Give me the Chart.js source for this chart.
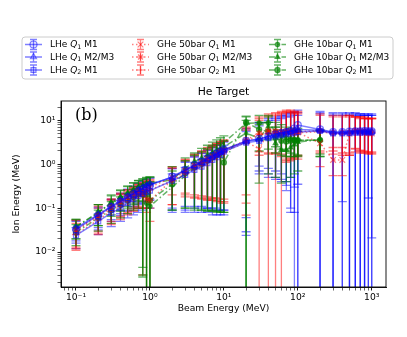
<!DOCTYPE html>
<html>
<head>
<meta charset="utf-8">
<script src="https://cdn.jsdelivr.net/npm/chart.js@4.4.0/dist/chart.umd.min.js"></script>
<style>
html, body { margin: 0; padding: 0; background: #fff; }
#wrap { width: 407px; height: 337px; }
</style>
</head>
<body>
<div id="wrap"><canvas id="ionChart" width="407" height="337"></canvas></div>
<script>
// beam energies (MeV)
const beamEnergy = [0.1, 0.2, 0.3, 0.4, 0.5, 0.6, 0.7, 0.8, 0.9, 1,
    2, 3, 4, 5, 6, 7, 8, 9, 10,
    20, 30, 40, 50, 60, 70, 80, 90, 100,
    200, 300, 400, 500, 600, 700, 800, 900, 1000];
const beamEnergy10bar = beamEnergy.slice(0, 29);

const xMajorTicks = [0.1, 1, 10, 100, 1000];
const yMajorTicks = [0.01, 0.1, 1, 10];

const chartTitle = 'He Target';
const panelTag = '(b)';
const xTitle = 'Beam Energy (MeV)';
const yTitle = 'Ion Energy (MeV)';

const seriesLabels = [
    'LHe Q_1 M1', 'LHe Q_1 M2/M3', 'LHe Q_2 M1',
    'GHe 50bar Q_1 M1', 'GHe 50bar Q_1 M2/M3', 'GHe 50bar Q_2 M1',
    'GHe 10bar Q_1 M1', 'GHe 10bar Q_1 M2/M3', 'GHe 10bar Q_2 M1'
];

// LHe
const lheQ1M1 = [0.033, 0.068, 0.105, 0.14, 0.175, 0.21, 0.245, 0.275, 0.3, 0.33,
    0.52, 0.74, 0.95, 1.15, 1.35, 1.55, 1.75, 1.95, 2.15,
    3.4, 3.8, 4.3, 4.8, 5.1, 5.4, 5.7, 6.5, 7.8,
    6.2, 5.4, 5.4, 5.5, 5.6, 5.6, 5.7, 5.6, 5.6];
const lheQ1M1Lo = [0.016, 0.032, 0.05, 0.068, 0.085, 0.1, 0.12, 0.13, 0.14, 0.15,
    0.1, 0.09, 0.1, 0.1, 0.1, 0.09, 0.09, 0.09, 0.09,
    0.024, 0.9, 0.8, 0.7, 0.6, 0.33, 0.5, 0.0001, 0.0001,
    0.0001, 0.0001, 0.14, 0.0001, 0.0001, 0.0001, 0.0001, 0.17, 0.0001];
const lheQ1M1Hi = [0.05, 0.1, 0.155, 0.21, 0.26, 0.31, 0.36, 0.4, 0.44, 0.48,
    0.8, 1.15, 1.5, 1.8, 2.1, 2.4, 2.7, 3.0, 3.3,
    6.5, 9, 11, 12, 13, 14, 15, 16, 17,
    16, 15, 15, 15, 15, 14, 14, 14, 14];

const lheQ1M23 = [0.035, 0.072, 0.11, 0.15, 0.185, 0.22, 0.26, 0.29, 0.32, 0.35,
    0.5, 0.72, 0.92, 1.1, 1.3, 1.5, 1.7, 1.9, 2.1,
    3.3, 3.7, 4.2, 4.6, 5.0, 5.3, 5.6, 5.9, 6.2,
    5.9, 5.3, 5.3, 5.4, 5.5, 5.5, 5.6, 5.5, 5.5];
const lheQ1M23Lo = [0.018, 0.036, 0.055, 0.075, 0.09, 0.11, 0.13, 0.14, 0.15, 0.16,
    0.09, 0.08, 0.08, 0.08, 0.08, 0.07, 0.07, 0.07, 0.07,
    0.061, 0.7, 0.6, 0.5, 0.45, 0.4, 0.1, 0.3, 0.0001,
    0.0001, 0.0001, 0.0001, 0.0001, 0.0001, 0.0001, 0.0001, 0.0001, 0.021];
const lheQ1M23Hi = [0.052, 0.105, 0.16, 0.22, 0.27, 0.32, 0.37, 0.41, 0.45, 0.49,
    0.78, 1.1, 1.45, 1.75, 2.05, 2.35, 2.65, 2.95, 3.2,
    6, 8.5, 10, 11, 12, 13, 14, 15, 15,
    15, 14, 14, 14, 14, 14, 13, 13, 13];

const lheQ2M1 = [0.024, 0.05, 0.078, 0.1, 0.13, 0.16, 0.19, 0.21, 0.23, 0.25,
    0.42, 0.57, 0.74, 0.88, 1.05, 1.25, 1.44, 1.63, 1.93,
    3.1, 3.4, 3.9, 4.3, 4.6, 4.8, 5.0, 5.2, 5.4,
    5.7, 5.0, 5.0, 5.1, 5.2, 5.2, 5.3, 5.3, 5.3];
const lheQ2M1Lo = [0.012, 0.025, 0.038, 0.05, 0.06, 0.07, 0.08, 0.09, 0.1, 0.1,
    0.08, 0.11, 0.11, 0.11, 0.1, 0.1, 0.1, 0.09, 0.09,
    0.029, 0.6, 0.5, 0.45, 0.4, 0.25, 0.08, 0.08, 0.35,
    0.0001, 0.0001, 0.0001, 0.0001, 0.0001, 0.0001, 0.0001, 0.0001, 0.0001];
const lheQ2M1Hi = [0.036, 0.075, 0.11, 0.15, 0.19, 0.23, 0.27, 0.3, 0.33, 0.36,
    0.6, 0.85, 1.1, 1.3, 1.55, 1.8, 2.1, 2.3, 2.7,
    5.5, 7.5, 9, 10, 11, 12, 12, 13, 13,
    14, 13, 13, 13, 13, 13, 13, 13, 13];

// GHe 50bar
const g50Q1M1 = [0.03, 0.064, 0.1, 0.135, 0.17, 0.2, 0.23, 0.26, 0.28, 0.3,
    0.5, 0.72, 0.93, 1.12, 1.32, 1.52, 1.72, 1.9, 2.1,
    3.3, 2.2, 5.5, 5.4, 5.3, 5.3, 5.4, 5.3, 5.3,
    3.0, 1.25, 1.25, 5.0, 5.6, 5.4, 5.2, 5.1, 5.0];
const g50Q1M1Lo = [0.011, 0.025, 0.045, 0.06, 0.075, 0.09, 0.1, 0.1, 0.08, 0.05,
    0.12, 0.18, 0.17, 0.16, 0.15, 0.15, 0.14, 0.13, 0.13,
    0.069, 0.0001, 1.8, 1.7, 0.0001, 1.2, 1.3, 1.4, 1.5,
    0.88, 0.55, 0.55, 1.6, 2.2, 2.0, 1.9, 1.8, 1.8];
const g50Q1M1Hi = [0.055, 0.12, 0.16, 0.22, 0.26, 0.3, 0.35, 0.38, 0.42, 0.45,
    0.88, 1.3, 1.7, 2.0, 2.4, 2.7, 3.0, 3.3, 3.6,
    6.5, 12, 14, 15, 16, 17, 17, 16, 16,
    6, 2.4, 2.4, 13, 12, 12, 11, 11, 11];

const g50Q1M23 = [0.032, 0.07, 0.11, 0.145, 0.18, 0.22, 0.25, 0.2, 0.16, 0.15,
    0.44, 0.7, 0.92, 1.1, 1.3, 1.5, 1.7, 1.9, 2.0,
    3.6, 5.0, 5.7, 5.6, 5.5, 5.7, 5.8, 5.6, 5.5,
    5.8, 5.2, 5.2, 5.3, 5.9, 5.7, 5.6, 5.5, 5.4];
const g50Q1M23Lo = [0.013, 0.03, 0.05, 0.065, 0.08, 0.1, 0.11, 0.003, 0.0001, 0.0001,
    0.12, 0.2, 0.18, 0.17, 0.16, 0.16, 0.15, 0.14, 0.14,
    0.13, 1.9, 0.0001, 1.8, 1.7, 1.3, 1.4, 1.5, 1.6,
    2.0, 2.0, 1.8, 1.8, 2.3, 2.1, 2.0, 1.9, 1.9];
const g50Q1M23Hi = [0.052, 0.11, 0.16, 0.21, 0.26, 0.3, 0.34, 0.37, 0.4, 0.42,
    0.85, 1.25, 1.65, 1.95, 2.3, 2.6, 2.9, 3.2, 3.5,
    7, 11, 13, 14, 15, 16, 16, 15, 15,
    14, 13, 13, 13, 12, 12, 12, 11, 11];

const g50Q2M1 = [0.025, 0.054, 0.085, 0.11, 0.14, 0.17, 0.2, 0.22, 0.24, 0.26,
    0.42, 0.6, 0.78, 0.93, 1.1, 1.3, 1.5, 1.7, 1.9,
    3.2, 4.7, 5.0, 5.1, 5.2, 5.2, 5.3, 5.3, 5.2,
    5.5, 5.0, 5.0, 5.1, 5.5, 5.3, 5.3, 5.2, 5.2];
const g50Q2M1Lo = [0.012, 0.027, 0.042, 0.055, 0.07, 0.085, 0.1, 0.1, 0.1, 0.1,
    0.2, 0.22, 0.2, 0.19, 0.18, 0.17, 0.17, 0.16, 0.16,
    0.2, 1.6, 1.7, 0.0001, 1.5, 1.1, 1.2, 1.3, 1.3,
    1.8, 1.7, 1.6, 1.6, 1.9, 1.8, 1.8, 1.7, 1.7];
const g50Q2M1Hi = [0.045, 0.1, 0.15, 0.2, 0.24, 0.28, 0.32, 0.35, 0.38, 0.4,
    0.8, 1.2, 1.55, 1.85, 2.15, 2.45, 2.75, 3.0, 3.3,
    6, 10, 12, 13, 14, 15, 15, 14, 14,
    13, 12, 12, 12, 12, 11, 11, 11, 11];

// GHe 10bar (up to 200 MeV)
const g10Q1M1 = [0.038, 0.08, 0.13, 0.17, 0.21, 0.25, 0.29, 0.2, 0.13, 0.11,
    null, null, null, null, null, null, null, null, null,
    8.5, 8.7, 8.8, 5.5, 4.5, 4.0, 3.8, 3.6, 3.5,
    3.6];
const g10Q1M1Lo = [0.02, 0.04, 0.065, 0.085, 0.1, 0.12, 0.14, 0.0027, 0.0001, 0.0001,
    null, null, null, null, null, null, null, null, null,
    0.0001, 3.5, 3.6, 2.5, 2.2, 2.0, 1.8, 1.7, 1.6,
    1.7];
const g10Q1M1Hi = [0.055, 0.12, 0.19, 0.25, 0.31, 0.37, 0.42, 0.45, 0.48, 0.5,
    null, null, null, null, null, null, null, null, null,
    12.5, 13, 13, 9, 8, 7, 6.5, 6, 6,
    6];

const g10Q1M23 = [0.037, 0.079, 0.135, 0.18, 0.22, 0.26, 0.3, 0.33, 0.35, 0.37,
    0.44, 0.81, 1.15, 1.37, 1.63, 1.83, 2.1, 2.3, 2.5,
    5.1, 3.9, 7.2, 3.0, 2.1, 2.1, 2.4, 2.8, 3.2,
    3.6];
const g10Q1M23Lo = [0.02, 0.04, 0.07, 0.09, 0.11, 0.13, 0.15, 0.003, 0.0001, 0.0001,
    0.09, 0.1, 0.09, 0.09, 0.085, 0.085, 0.08, 0.08, 0.08,
    0.0001, 0.37, 0.6, 0.5, 0.37, 0.4, 0.5, 0.6, 0.7,
    1.5];
const g10Q1M23Hi = [0.056, 0.12, 0.2, 0.26, 0.32, 0.38, 0.43, 0.47, 0.5, 0.52,
    0.88, 1.4, 1.8, 2.3, 2.7, 3.2, 3.6, 4.0, 4.4,
    10, 8, 12, 7, 5, 5, 5.5, 6, 6.5,
    6];

const g10Q2M1 = [0.028, 0.06, 0.09, 0.12, 0.15, 0.18, 0.21, 0.23, 0.2, 0.15,
    0.35, 0.62, 0.85, 1.02, 1.22, 1.42, 1.62, 1.82, 1.1,
    9.0, 6.2, 5.5, 4.0, 3.4, 3.3, 3.4, 3.5, 3.5,
    3.5];
const g10Q2M1Lo = [0.014, 0.03, 0.045, 0.06, 0.075, 0.09, 0.1, 0.0045, 0.0001, 0.0001,
    0.09, 0.1, 0.1, 0.09, 0.09, 0.09, 0.085, 0.085, 0.08,
    0.0001, 2.0, 2.2, 1.8, 1.6, 1.5, 1.5, 1.5, 1.5,
    1.5];
const g10Q2M1Hi = [0.042, 0.09, 0.14, 0.18, 0.22, 0.27, 0.31, 0.35, 0.38, 0.4,
    0.7, 1.2, 1.6, 1.9, 2.2, 2.5, 2.8, 3.1, 3.4,
    12, 9, 9, 7, 6, 5.5, 5.5, 5.5, 5.5,
    5.5];

const BLUE = 'rgba(0, 0, 255, 0.5)';
const RED = 'rgba(255, 0, 0, 0.5)';
const GREEN = 'rgba(0, 128, 0, 0.6)';
const DOTTED = [1.5, 2.5];
const DASHDOT = [6, 2.5, 1.5, 2.5];
const FONT = "'DejaVu Sans', sans-serif";

function makeSet(idx, xs, ys, lo, hi, color, dash, style, radius, fill) {
    return {
        label: seriesLabels[idx],
        data: xs.map((xv, i) => ({ x: xv, y: ys[i] })),
        errLo: lo,
        errHi: hi,
        showLine: true,
        spanGaps: true,
        borderColor: color,
        borderWidth: 1.5,
        borderDash: dash,
        pointStyle: style,
        pointRadius: radius,
        pointBorderWidth: 1.2,
        pointBorderColor: color,
        pointBackgroundColor: fill
    };
}

const datasets = [
    makeSet(0, beamEnergy, lheQ1M1, lheQ1M1Lo, lheQ1M1Hi, BLUE, [], 'circle', 3.5, 'rgba(0,0,255,0.08)'),
    makeSet(1, beamEnergy, lheQ1M23, lheQ1M23Lo, lheQ1M23Hi, BLUE, [], 'triangle', 3.5, 'rgba(0,0,255,0.08)'),
    makeSet(2, beamEnergy, lheQ2M1, lheQ2M1Lo, lheQ2M1Hi, BLUE, [], 'rect', 3.5, 'rgba(0,0,255,0.08)'),
    makeSet(3, beamEnergy, g50Q1M1, g50Q1M1Lo, g50Q1M1Hi, RED, DOTTED, 'crossRot', 4, RED),
    makeSet(4, beamEnergy, g50Q1M23, g50Q1M23Lo, g50Q1M23Hi, RED, DOTTED, 'star', 3.5, RED),
    makeSet(5, beamEnergy, g50Q2M1, g50Q2M1Lo, g50Q2M1Hi, RED, DOTTED, 'cross', 4, RED),
    makeSet(6, beamEnergy10bar, g10Q1M1, g10Q1M1Lo, g10Q1M1Hi, GREEN, DASHDOT, 'circle', 2.2, GREEN),
    makeSet(7, beamEnergy10bar, g10Q1M23, g10Q1M23Lo, g10Q1M23Hi, GREEN, DASHDOT, 'triangle', 2.8, GREEN),
    makeSet(8, beamEnergy10bar, g10Q2M1, g10Q2M1Lo, g10Q2M1Hi, GREEN, DASHDOT, 'circle', 2.6, GREEN)
];

const supChars = { '-': '\u207B', '0': '\u2070', '1': '\u00B9', '2': '\u00B2', '3': '\u00B3' };
function powLabel(v) {
    const e = Math.round(Math.log10(v));
    return '10' + String(e).split('').map(c => supChars[c]).join('');
}
function withMinors(majors) {
    const out = [];
    majors.forEach(m => {
        for (let k = 1; k <= 9; k++) out.push(m * k);
    });
    return out;
}
const xAllTicks = withMinors([0.01].concat(xMajorTicks));
const yAllTicks = withMinors([0.001].concat(yMajorTicks));
function isMajor(v, majors) {
    return majors.some(m => Math.abs(v / m - 1) < 1e-6);
}

// error bars drawn with the chart's own scales
const errorBars = {
    id: 'errorBars',
    beforeDatasetsDraw(chart) {
        const { ctx, chartArea: a, scales: { x, y } } = chart;
        ctx.save();
        ctx.beginPath();
        ctx.rect(a.left, a.top, a.right - a.left, a.bottom - a.top);
        ctx.clip();
        chart.data.datasets.forEach(ds => {
            ctx.strokeStyle = ds.borderColor;
            ctx.lineWidth = 1.3;
            ctx.setLineDash([]);
            ds.data.forEach((p, i) => {
                if (p.y == null) return;
                const px = x.getPixelForValue(p.x);
                const top = y.getPixelForValue(ds.errHi[i]);
                const bot = y.getPixelForValue(ds.errLo[i]);
                ctx.beginPath();
                ctx.moveTo(px, top); ctx.lineTo(px, bot);
                ctx.moveTo(px - 4.5, top); ctx.lineTo(px + 4.5, top);
                ctx.moveTo(px - 4.5, bot); ctx.lineTo(px + 4.5, bot);
                ctx.stroke();
            });
        });
        ctx.restore();
    }
};

function drawRich(ctx, text, x, y, size) {
    const parts = text.split(/(Q_\d)/);
    let cx = x;
    parts.forEach(part => {
        if (!part) return;
        if (/^Q_\d$/.test(part)) {
            ctx.font = 'italic ' + size + 'px ' + FONT;
            ctx.fillText('Q', cx, y);
            cx += ctx.measureText('Q').width;
            ctx.font = (size * 0.7) + 'px ' + FONT;
            ctx.fillText(part[2], cx, y + size * 0.25);
            cx += ctx.measureText(part[2]).width;
        } else {
            ctx.font = size + 'px ' + FONT;
            ctx.fillText(part, cx, y);
            cx += ctx.measureText(part).width;
        }
    });
}

const frameAndLegend = {
    id: 'frameAndLegend',
    afterDraw(chart) {
        const { ctx, chartArea: a } = chart;
        ctx.save();
        // frame
        ctx.strokeStyle = '#000';
        ctx.lineWidth = 0.9;
        ctx.strokeRect(a.left, a.top, a.right - a.left, a.bottom - a.top);

        // title and panel tag
        ctx.fillStyle = '#000';
        ctx.textBaseline = 'middle';
        ctx.textAlign = 'center';
        ctx.font = '10.8px ' + FONT;
        ctx.fillText(chartTitle, (a.left + a.right) / 2, 92);
        ctx.textAlign = 'left';
        ctx.font = "16px 'DejaVu Serif', serif";
        ctx.fillText(panelTag, a.left + 14, a.top + 15);

        // legend box
        const bx = 22, by = 37, bw = 371, bh = 42;
        ctx.beginPath();
        ctx.roundRect(bx, by, bw, bh, 3);
        ctx.fillStyle = 'rgba(255,255,255,0.8)';
        ctx.fill();
        ctx.strokeStyle = '#cccccc';
        ctx.lineWidth = 1;
        ctx.stroke();

        const colX = [25, 132, 269];
        const rowY = [44.5, 57, 70];
        chart.data.datasets.forEach((ds, i) => {
            const hx = colX[Math.floor(i / 3)];
            const hy = rowY[i % 3];
            const mx = hx + 8.5;
            ctx.strokeStyle = ds.borderColor;
            ctx.lineWidth = 1.5;
            ctx.setLineDash(ds.borderDash);
            ctx.beginPath();
            ctx.moveTo(hx, hy); ctx.lineTo(hx + 17, hy);
            ctx.stroke();
            ctx.setLineDash([]);
            ctx.lineWidth = 1.3;
            ctx.beginPath();
            ctx.moveTo(mx, hy - 5); ctx.lineTo(mx, hy + 5);
            ctx.moveTo(mx - 3.5, hy - 5); ctx.lineTo(mx + 3.5, hy - 5);
            ctx.moveTo(mx - 3.5, hy + 5); ctx.lineTo(mx + 3.5, hy + 5);
            ctx.stroke();
            ctx.fillStyle = ds.pointBackgroundColor;
            ctx.lineWidth = ds.pointBorderWidth;
            Chart.helpers.drawPoint(ctx, {
                pointStyle: ds.pointStyle, radius: ds.pointRadius,
                rotation: 0, borderWidth: ds.pointBorderWidth
            }, mx, hy);
            ctx.fillStyle = '#000';
            ctx.textAlign = 'left';
            ctx.textBaseline = 'middle';
            drawRich(ctx, ds.label, hx + 25, hy + 0.5, 9);
        });
        ctx.restore();
    }
};

const tickFont = { family: FONT, size: 9.2 };

new Chart(document.getElementById('ionChart'), {
    type: 'scatter',
    data: { datasets: datasets },
    plugins: [errorBars, frameAndLegend],
    options: {
        responsive: false,
        animation: false,
        devicePixelRatio: 1,
        layout: { padding: { top: 101, right: 21, bottom: 0, left: 0 } },
        plugins: {
            legend: { display: false },
            tooltip: { enabled: false },
            title: { display: false }
        },
        scales: {
            x: {
                type: 'logarithmic',
                min: 0.0627,
                max: 1560,
                afterBuildTicks: s => { s.ticks = xAllTicks.filter(v => v >= s.min && v <= s.max).map(v => ({ value: v })); },
                afterFit: s => { s.height = 50; },
                ticks: {
                    autoSkip: false, maxRotation: 0, padding: 2, color: '#000', font: tickFont,
                    callback: v => isMajor(v, xMajorTicks) ? powLabel(v) : ''
                },
                grid: {
                    display: true, drawOnChartArea: false, drawTicks: true, tickLength: 3.5,
                    tickColor: '#000',
                    tickWidth: c => (c.tick && isMajor(c.tick.value, xMajorTicks)) ? 0.9 : 0.6
                },
                border: { display: true, color: '#000', width: 0.9 },
                title: { display: true, text: xTitle, color: '#000', font: tickFont, padding: { top: 0, bottom: 22.5 } }
            },
            y: {
                type: 'logarithmic',
                min: 0.0016,
                max: 27.5,
                afterBuildTicks: s => { s.ticks = yAllTicks.filter(v => v >= s.min && v <= s.max).map(v => ({ value: v })); },
                afterFit: s => { s.width = 61; },
                ticks: {
                    autoSkip: false, padding: 2, color: '#000', font: tickFont,
                    callback: v => isMajor(v, yMajorTicks) ? powLabel(v) : ''
                },
                grid: {
                    display: true, drawOnChartArea: false, drawTicks: true, tickLength: 3.5,
                    tickColor: '#000',
                    tickWidth: c => (c.tick && isMajor(c.tick.value, yMajorTicks)) ? 0.9 : 0.6
                },
                border: { display: true, color: '#000', width: 0.9 },
                title: { display: true, text: yTitle, color: '#000', font: tickFont, padding: { top: 11, bottom: 0 } }
            }
        }
    }
});
</script>
</body>
</html>
